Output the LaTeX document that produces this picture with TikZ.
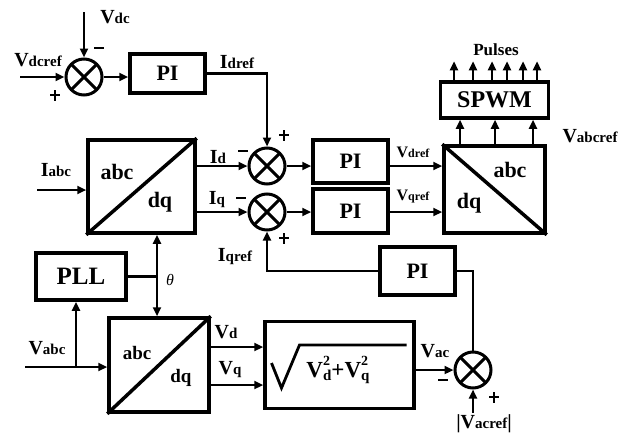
\documentclass[tikz,border=0pt]{standalone}
\usepackage{fontspec}
\setmainfont{Liberation Serif}
\usetikzlibrary{arrows.meta,calc}
\newcommand{\labL}[2]{{\fontsize{20}{20}\selectfont #1}{\fontsize{15}{15}\selectfont #2}}
\newcommand{\labS}[2]{{\fontsize{16}{16}\selectfont #1}{\fontsize{12}{12}\selectfont #2}}
\newcommand{\fsz}[1]{\fontsize{#1}{#1}\selectfont}
\newcommand{\sqterm}[1]{V\rlap{\raisebox{12pt}{\fsz{14}2}}\raisebox{-3pt}{\fsz{15}#1}}
\newcommand{\mns}{\rule[4pt]{10pt}{2.8pt}}
\newcommand{\pls}{\rlap{\rule[4pt]{10pt}{2.8pt}}\hspace*{3.6pt}\rule[-0.1pt]{2.8pt}{11pt}\hspace*{3.6pt}}
\begin{document}
\begin{tikzpicture}[x=1pt,y=-1pt,
  box/.style={draw,line width=3.5pt,inner sep=0pt},
  sumj/.style={circle,draw,line width=3pt,minimum size=36pt,inner sep=0pt,
    path picture={\draw[line width=3pt] (path picture bounding box.north west) -- (path picture bounding box.south east) (path picture bounding box.north east) -- (path picture bounding box.south west);}},
  conn/.style={line width=2.8pt},
  arr/.style={conn,-{Triangle[length=9pt,width=8pt]}},
  dbl/.style={conn,{Triangle[length=9pt,width=8pt]}-{Triangle[length=9pt,width=8pt]}},
  lbl/.style={font=\bfseries,inner sep=0pt},
  sgn/.style={font=\bfseries\fsz{20},inner sep=0pt}
]
\useasboundingbox (0,0) rectangle (627,439);

% blocks
\node[sumj] (s1) at (84,77) {};
\node[box,minimum width=75pt,minimum height=39pt,font=\bfseries\fsz{22}] (pi1) at (167.5,73.5) {PI};
\node[sumj] (s2) at (267,166) {};
\node[sumj] (s3) at (267,212) {};
\node[box,minimum width=107pt,minimum height=93pt] (b1) at (141.5,186.5) {};
\draw[line width=3.5pt] (b1.south west) -- (b1.north east);
\node[lbl,font=\bfseries\fsz{22}] (b1a) at (117,172) {abc};
\node[lbl,font=\bfseries\fsz{22}] (b1b) at (160,202) {dq};
\node[box,minimum width=75pt,minimum height=43pt,font=\bfseries\fsz{22}] (pi2) at (350.5,161.5) {PI};
\node[box,minimum width=75pt,minimum height=44pt,font=\bfseries\fsz{22}] (pi3) at (350.5,211) {PI};
\node[box,minimum width=101pt,minimum height=87pt] (b2) at (494.5,189.5) {};
\draw[line width=3.5pt] (b2.north west) -- (b2.south east);
\node[lbl,font=\bfseries\fsz{22}] (b2a) at (510,170) {abc};
\node[lbl,font=\bfseries\fsz{22}] (b2b) at (469,203) {dq};
\node[box,minimum width=108pt,minimum height=36pt,font=\bfseries\fsz{24}] (spwm) at (494.5,100) {SPWM};
\node[box,minimum width=90pt,minimum height=47pt,font=\bfseries\fsz{25}] (pll) at (81,276.5) {PLL};
\node[box,minimum width=100pt,minimum height=94pt] (b3) at (159,365) {};
\draw[line width=3.5pt] (b3.south west) -- (b3.north east);
\node[lbl,font=\bfseries\fsz{19}] (b3a) at (137,353) {abc};
\node[lbl,font=\bfseries\fsz{19}] (b3b) at (181,378) {dq};
\node[box,minimum width=149pt,minimum height=87pt] (sq) at (339.5,365) {};
\draw[line width=2.8pt] (sq.center) ++(-68,-2) -- ++(10,25) -- ++(18,-43) -- ++(107,0);
\node[lbl,font=\bfseries\fsz{23}] (sqt) at (338,370) {\sqterm{d}+\sqterm{q}};
\node[box,minimum width=75pt,minimum height=48pt,font=\bfseries\fsz{22}] (pi4) at (417.5,271) {PI};
\node[sumj] (s4) at (473,370) {};

% connectors
\coordinate (vdcin) at (84,12);
\draw[arr] (vdcin) -- (s1.north);
\coordinate (vdcrefin) at (20,77);
\draw[arr] (vdcrefin) -- (s1.west);
\draw[arr] (s1.east) -- (s1.east -| pi1.west);
\draw[arr] (pi1.east) -| (s2.north);
\coordinate (iabcin) at (37,190);
\draw[arr] (iabcin) -- (iabcin -| b1.west);
\draw[arr] (b1.east |- s2) -- (s2.west);
\draw[arr] (b1.east |- s3) -- (s3.west);
\draw[arr] (s2.east) -- (s2.east -| pi2.west);
\draw[arr] (s3.east) -- (s3.east -| pi3.west);
\draw[arr] (pi2.east |- s2) -- (b2.west |- s2);
\draw[arr] (pi3.east |- s3) -- (b2.west |- s3);
\foreach \dx in {-34.5,0.5,38.5}
  \draw[arr] ([xshift=\dx pt]b2.north) -- ([xshift=\dx pt]spwm.south);
\foreach \dx in {-40.5,-21.5,-2.5,12.5,28.5,42.5}
  \draw[arr] ([xshift=\dx pt]spwm.north) -- ++(0,-19);
\coordinate (th) at (157,277);
\draw[dbl] (th |- b1.south) -- (th |- b3.north);
\draw[conn] (pll.east) -- (pll.east -| th);
\coordinate (vabcin) at (25,367);
\coordinate (vbr) at (76,367);
\draw[arr] (vabcin) -- (vabcin -| b3.west);
\draw[arr] (vbr) -- (vbr |- pll.south);
\draw[arr] ([yshift=18pt]b3.east) -- ([yshift=18pt]sq.west);
\draw[arr] ([yshift=-20pt]b3.east) -- ([yshift=-20pt]sq.west);
\draw[arr] (s4.west -| sq.east) -- (s4.west);
\coordinate (vacrefin) at (473,413);
\draw[arr] (vacrefin) -- (s4.south);
\draw[conn] (s4.north) |- (pi4.east);
\draw[arr] (pi4.west) -| (s3.south);

% labels
\node[lbl] (lvdc) at (115,17) {\labL{V}{dc}};
\node[sgn] at (99,50) {\mns};
\node[sgn] at (55,95) {\pls};
\node[lbl] (lvdcref) at (38,60) {\labL{V}{dcref}};
\node[lbl] (lidref) at (237,62) {\labL{I}{dref}};
\node[sgn] at (284,135) {\pls};
\node[sgn] at (243,153) {\mns};
\node[lbl] (liabc) at (56,170) {\labL{I}{abc}};
\node[lbl] (lid) at (218,157) {\labL{I}{d}};
\node[lbl] (liq) at (217,200) {\labL{I}{q}};
\node[sgn] at (241,200) {\mns};
\node[sgn] at (284,238) {\pls};
\node[lbl] (lvdref) at (413,152) {\labS{V}{dref}};
\node[lbl] (lvqref) at (413,197) {\labS{V}{qref}};
\node[lbl,font=\bfseries\fsz{17}] (lpulses) at (496,50) {Pulses};
\node[lbl] (lvabcref) at (590,136) {\labL{V}{abcref}};
\node[inner sep=0pt,font=\itshape\fsz{16}] (lth) at (170,280) {θ};
\node[lbl] (lvabc) at (47,348) {\labL{V}{abc}};
\node[lbl] (lvd) at (226,332) {\labL{V}{d}};
\node[lbl] (lvq) at (230,370) {\labL{V}{q}};
\node[lbl] (lvac) at (435,351) {\labL{V}{ac}};
\node[sgn] at (443,382) {\mns};
\node[sgn] at (494,397) {\pls};
\node[lbl] (lvacref) at (484,424) {\labL{|V}{acref}{\fsz{20}|}};
\node[lbl] (liqref) at (235,257) {\labL{I}{qref}};
\end{tikzpicture}
\end{document}
